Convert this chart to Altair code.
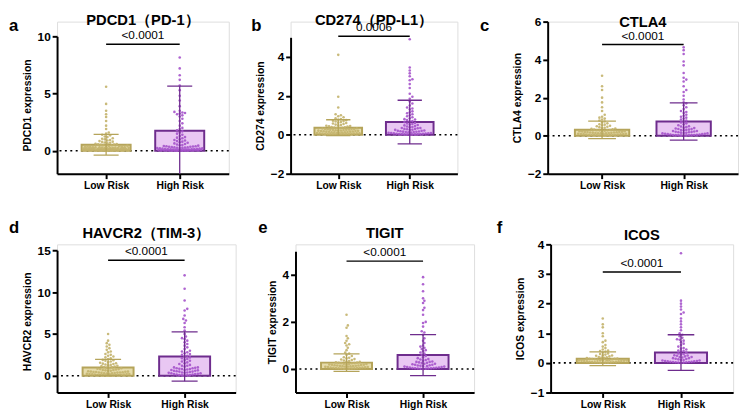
import math
import altair as alt
import pandas as pd

FONT = "Liberation Sans"

# ---------------- data ----------------
groups = ["Low Risk", "High Risk"]
letters = ["a", "b", "c", "d", "e", "f"]
titles = ["PDCD1（PD-1）", "CD274（PD-L1）", "CTLA4", "HAVCR2（TIM-3）", "TIGIT", "ICOS"]
y_titles = ["PDCD1 expression", "CD274 expression", "CTLA4 expression",
            "HAVCR2 expression", "TIGIT expression", "ICOS expression"]
p_values = ["<0.0001", "0.0006", "<0.0001", "<0.0001", "<0.0001", "<0.0001"]
y_domains = [[-2, 10], [-2, 5], [-2, 6], [-2, 15], [-1, 5], [-1, 4]]
y_ticks = [[0, 5, 10], [-2, 0, 2, 4], [-2, 0, 2, 4, 6], [0, 5, 10, 15], [0, 2, 4], [-1, 0, 1, 2, 3, 4]]
sig_y = [9.3, 5.05, 4.8, 13.8, 4.58, 3.07]
low_mean = [0.53, 0.36, 0.31, 1.0, 0.27, 0.14]
low_sd = [0.9, 0.41, 0.46, 0.95, 0.37, 0.23]
high_mean = [1.75, 0.65, 0.75, 2.3, 0.59, 0.35]
high_sd = [3.9, 1.12, 0.98, 2.95, 0.87, 0.6]

a_low = [5.6, 4.1, 3.5, 3.2, 2.95, 2.6, 2.2, 1.9, 1.6, 1.5, 1.4, 1.35, 1.25, 1.2, 1.1, 1.05, 1.0, 0.95,
         0.9, 0.85, 0.8, 0.78, 0.72, 0.7, 0.65, 0.62, 0.6, 0.58, 0.55, 0.52, 0.5, 0.48, 0.45, 0.44, 0.42,
         0.4, 0.38, 0.36, 0.35, 0.33, 0.32, 0.3, 0.3, 0.28, 0.27, 0.26, 0.25, 0.24, 0.22, 0.21, 0.2, 0.2,
         0.19, 0.18, 0.17, 0.16, 0.15, 0.15, 0.14, 0.13, 0.12, 0.12, 0.11, 0.1, 0.1, 0.09, 0.08, 0.08,
         0.07, 0.06, 0.06, 0.05, 0.05, 0.04, 0.04, 0.03, 0.03, 0.02, 0.02, 0.01,
         0.3, 0.28, 0.25, 0.22, 0.2, 0.18, 0.16, 0.14, 0.12, 0.1, 0.09, 0.07, 0.05, 0.04, 0.03,
         0.02, 0.01, 0.01, 0.0, 0.0]
a_high = [8.15, 7.2, 6.6, 6.2, 5.7, 5.3, 4.8, 4.4, 3.9, 3.5, 3.4, 3.35, 3.3, 3.25, 3.2, 3.1, 3.0, 2.8,
          2.6, 2.4, 2.2, 2.0, 1.9, 1.8, 1.7, 1.6, 1.5, 1.4, 1.3, 1.2, 1.15, 1.1, 1.0, 0.95, 0.9, 0.85,
          0.8, 0.75, 0.7, 0.65, 0.6, 0.55, 0.5, 0.48, 0.45, 0.42, 0.4, 0.38, 0.35, 0.32, 0.3, 0.28,
          0.26, 0.24, 0.22, 0.2, 0.19, 0.18, 0.16, 0.15, 0.14, 0.12, 0.11, 0.1, 0.09, 0.08, 0.07,
          0.06, 0.05, 0.04, 0.03, 0.02, 0.01,
          0.4, 0.35, 0.3, 0.27, 0.24, 0.21, 0.18, 0.15, 0.12, 0.1, 0.08, 0.06, 0.05, 0.04, 0.03,
          0.02, 0.01, 0.01, 0.0, 0.0]
b_low = [4.1, 1.95, 1.4, 1.05, 1.0, 0.95, 0.9, 0.85, 0.8, 0.78, 0.75, 0.72, 0.7, 0.68, 0.65, 0.62, 0.6,
         0.58, 0.55, 0.52, 0.5, 0.48, 0.46, 0.45, 0.43, 0.42, 0.4, 0.38, 0.37, 0.36, 0.35, 0.34, 0.33,
         0.32, 0.3, 0.29, 0.28, 0.27, 0.26, 0.25, 0.24, 0.23, 0.22, 0.21, 0.2, 0.19, 0.18, 0.17, 0.16,
         0.15, 0.14, 0.13, 0.12, 0.11, 0.1, 0.09, 0.08, 0.07, 0.06, 0.05, 0.04, 0.03, 0.02, 0.01,
         0.3, 0.26, 0.22, 0.19, 0.16, 0.13, 0.1, 0.08, 0.06, 0.05, 0.04, 0.03, 0.02, 0.01, 0.0]
b_high = [4.9, 3.45, 3.3, 3.15, 3.0, 2.85, 2.8, 2.6, 2.4, 2.1, 1.95, 1.85, 1.7, 1.6, 1.5, 1.4, 1.35, 1.3,
          1.2, 1.15, 1.1, 1.05, 1.0, 0.95, 0.9, 0.85, 0.8, 0.78, 0.75, 0.7, 0.68, 0.65, 0.6, 0.58, 0.55,
          0.52, 0.5, 0.48, 0.45, 0.42, 0.4, 0.38, 0.35, 0.33, 0.3, 0.28, 0.26, 0.24, 0.22, 0.2, 0.18,
          0.16, 0.15, 0.14, 0.12, 0.1, 0.09, 0.08, 0.06, 0.05, 0.04, 0.03, 0.02, 0.01,
          0.35, 0.3, 0.25, 0.2, 0.17, 0.14, 0.11, 0.09, 0.07, 0.05, 0.04, 0.03, 0.02, 0.01, 0.0]
c_low = [3.15, 2.6, 2.4, 2.0, 1.75, 1.5, 1.3, 1.1, 1.0, 0.95, 0.9, 0.85, 0.8, 0.75, 0.7, 0.65, 0.6, 0.58,
         0.55, 0.52, 0.5, 0.47, 0.45, 0.42, 0.4, 0.38, 0.36, 0.34, 0.32, 0.3, 0.29, 0.28, 0.26, 0.25,
         0.24, 0.22, 0.21, 0.2, 0.19, 0.18, 0.17, 0.16, 0.15, 0.14, 0.13, 0.12, 0.11, 0.1, 0.09, 0.08,
         0.07, 0.06, 0.05, 0.04, 0.03, 0.02, 0.01,
         0.28, 0.24, 0.2, 0.17, 0.14, 0.12, 0.1, 0.08, 0.06, 0.05, 0.04, 0.03, 0.02, 0.01, 0.0]
c_high = [4.65, 4.5, 4.3, 3.9, 3.7, 3.3, 3.05, 2.95, 2.85, 2.6, 2.4, 2.3, 2.1, 1.9, 1.75, 1.7, 1.6, 1.5,
          1.4, 1.3, 1.25, 1.2, 1.1, 1.05, 1.0, 0.95, 0.9, 0.85, 0.8, 0.75, 0.7, 0.65, 0.6, 0.55, 0.5,
          0.48, 0.45, 0.42, 0.4, 0.38, 0.35, 0.32, 0.3, 0.28, 0.25, 0.22, 0.2, 0.18, 0.16, 0.14, 0.12,
          0.1, 0.08, 0.06, 0.05, 0.04, 0.03, 0.02, 0.01,
          0.35, 0.3, 0.25, 0.21, 0.18, 0.15, 0.12, 0.1, 0.08, 0.06, 0.04, 0.03, 0.02, 0.01, 0.0]
d_low = [5.0, 4.2, 3.9, 3.7, 3.5, 3.3, 3.1, 2.9, 2.8, 2.6, 2.5, 2.4, 2.3, 2.2, 2.1, 2.0, 1.9, 1.85, 1.8,
         1.7, 1.6, 1.55, 1.5, 1.45, 1.4, 1.35, 1.3, 1.25, 1.2, 1.15, 1.1, 1.05, 1.0, 0.95, 0.9, 0.85,
         0.8, 0.75, 0.7, 0.65, 0.6, 0.55, 0.5, 0.48, 0.45, 0.42, 0.4, 0.38, 0.35, 0.32, 0.3, 0.28,
         0.25, 0.22, 0.2, 0.18, 0.15, 0.12, 0.1, 0.08, 0.06, 0.04, 0.02,
         0.9, 0.8, 0.7, 0.6, 0.5, 0.45, 0.4, 0.3, 0.25, 0.2, 0.15, 0.1, 0.05, 0.03, 0.01]
d_high = [12.0, 10.4, 9.0, 8.0, 7.8, 7.2, 6.8, 6.6, 6.3, 5.8, 5.4, 5.0, 4.7, 4.5, 4.4, 4.2, 4.0, 3.8,
          3.6, 3.4, 3.2, 3.0, 2.9, 2.8, 2.7, 2.6, 2.5, 2.4, 2.3, 2.2, 2.1, 2.0, 1.9, 1.8, 1.7, 1.6,
          1.5, 1.4, 1.3, 1.2, 1.1, 1.0, 0.95, 0.9, 0.85, 0.8, 0.75, 0.7, 0.65, 0.6, 0.55, 0.5, 0.45,
          0.4, 0.35, 0.3, 0.25, 0.2, 0.15, 0.1, 0.05,
          1.2, 1.0, 0.9, 0.8, 0.7, 0.6, 0.5, 0.4, 0.35, 0.3, 0.2, 0.15, 0.1, 0.05, 0.02]
e_low = [2.3, 1.85, 1.75, 1.4, 1.3, 1.2, 1.1, 1.05, 1.0, 0.9, 0.8, 0.7, 0.65, 0.6, 0.55, 0.5, 0.48,
         0.45, 0.42, 0.4, 0.38, 0.36, 0.34, 0.32, 0.3, 0.28, 0.27, 0.26, 0.25, 0.24, 0.22, 0.21, 0.2,
         0.19, 0.18, 0.17, 0.16, 0.15, 0.14, 0.13, 0.12, 0.11, 0.1, 0.09, 0.08, 0.07, 0.06, 0.05,
         0.04, 0.03, 0.02, 0.01,
         0.25, 0.21, 0.18, 0.15, 0.12, 0.1, 0.08, 0.06, 0.05, 0.04, 0.03, 0.02, 0.01, 0.0]
e_high = [3.9, 3.6, 3.3, 3.0, 2.9, 2.8, 2.6, 2.5, 2.3, 2.0, 1.95, 1.8, 1.6, 1.55, 1.45, 1.3, 1.2, 1.1,
          1.0, 0.95, 0.9, 0.85, 0.8, 0.75, 0.7, 0.65, 0.6, 0.55, 0.5, 0.46, 0.42, 0.4, 0.38, 0.35,
          0.32, 0.3, 0.28, 0.25, 0.22, 0.2, 0.18, 0.16, 0.14, 0.12, 0.1, 0.08, 0.06, 0.05, 0.04,
          0.03, 0.02, 0.01,
          0.3, 0.26, 0.22, 0.18, 0.15, 0.12, 0.1, 0.08, 0.06, 0.04, 0.03, 0.02, 0.01, 0.0]
f_low = [1.5, 1.3, 1.2, 1.0, 0.9, 0.75, 0.7, 0.6, 0.55, 0.5, 0.45, 0.42, 0.4, 0.38, 0.35, 0.32, 0.3,
         0.28, 0.26, 0.25, 0.24, 0.22, 0.2, 0.19, 0.18, 0.17, 0.16, 0.15, 0.14, 0.13, 0.12, 0.11, 0.1,
         0.09, 0.08, 0.07, 0.06, 0.05, 0.04, 0.03, 0.02, 0.01,
         0.14, 0.12, 0.1, 0.09, 0.08, 0.07, 0.06, 0.05, 0.04, 0.03, 0.02, 0.02, 0.01, 0.01, 0.0]
f_high = [3.7, 2.1, 2.0, 1.9, 1.8, 1.7, 1.65, 1.5, 1.4, 1.3, 1.2, 1.1, 1.0, 0.95, 0.9, 0.85, 0.8, 0.78,
          0.75, 0.7, 0.65, 0.6, 0.55, 0.5, 0.48, 0.45, 0.42, 0.4, 0.38, 0.35, 0.32, 0.3, 0.28, 0.26,
          0.24, 0.22, 0.2, 0.18, 0.16, 0.14, 0.12, 0.1, 0.08, 0.06, 0.05, 0.04, 0.03, 0.02, 0.01,
          0.25, 0.2, 0.16, 0.13, 0.1, 0.08, 0.06, 0.05, 0.04, 0.03, 0.02, 0.01, 0.0]

low_points = [a_low, b_low, c_low, d_low, e_low, f_low]
high_points = [a_high, b_high, c_high, d_high, e_high, f_high]

# ---------------- layout / style ----------------
PW = [175, 170, 194, 182, 182, 186]
PH = [155, 155, 155, 151, 151, 151]          # common plot height per row
RANGE_TOP = [15, 16, 0, 6, 7, 0]             # where each y axis starts inside its plot
letter_dx = [-49, -40, -69, -49, -38, -55]
letter_dy = [10, 10, 10, -12, -12, -12]
title_dy = [-1.5, -2, 0.5, -11, -11, -9.5]
X_MIN, X_MAX = 1 / 3, 8 / 3
BOX_HALF = 0.333
CAP_HALF = 0.17

BOX_FILL = ["#e6dcab", "#e9c7f3"]
BOX_STROKE = ["#b5a45a", "#6e2c8d"]
PT_COLOR = ["#c3b26c", "#a553cb"]


def swarm_offsets(vals, ppu_y, d=2.7, maxoff=23.0):
    order = sorted(range(len(vals)), key=lambda k: vals[k])
    step = d / 2
    nmax = int(maxoff / step)
    cands = [0.0]
    for k in range(1, nmax + 1):
        cands += [k * step, -k * step]
    placed = []
    offs = [0.0] * len(vals)
    for idx in order:
        y = vals[idx] * ppu_y
        near = [(px, py) for (px, py) in placed if abs(py - y) < d]
        best, bestc, bestscore = None, 0.0, -1
        for c in cands:
            md = min((math.hypot(c - px, y - py) for px, py in near), default=1e9)
            if md >= d:
                best = c
                break
            if md > bestscore:
                bestscore, bestc = md, c
        if best is None:
            best = bestc
        placed.append((best, y))
        offs[idx] = best
    return offs


def make_panel(i):
    w, h, top = PW[i], PH[i], RANGE_TOP[i]
    y0, y1 = y_domains[i]
    ppu_x = w / (X_MAX - X_MIN)
    ppu_y = (h - top) / (y1 - y0)
    xs = alt.Scale(domain=[X_MIN, X_MAX], nice=False, zero=False)
    ys = alt.Scale(domain=[y0, y1], range=[h, top], nice=False, zero=False)
    label_expr = "datum.value == 1 ? '%s' : '%s'" % (groups[0], groups[1])
    xaxis = alt.Axis(values=[1, 2], labelExpr=label_expr, title=None, grid=False,
                     domainColor="black", domainWidth=2, tickColor="black", tickWidth=2,
                     tickSize=5, labelFont=FONT, labelFontSize=10.5, labelFontWeight="bold",
                     labelColor="black", labelPadding=2, labelFlush=False)
    yaxis = alt.Axis(values=y_ticks[i], title=y_titles[i], grid=False,
                     domainColor="black", domainWidth=2, tickColor="black", tickWidth=2,
                     tickSize=5, labelFont=FONT, labelFontSize=12, labelFontWeight="bold",
                     labelColor="black", labelPadding=2, titleFont=FONT, titleFontSize=10.5,
                     titleFontWeight="bold", titleColor="black", titlePadding=5,
                     labelFlush=False)

    def X(f):
        return alt.X(f, type="quantitative", scale=xs, axis=xaxis)

    def Y(f):
        return alt.Y(f, type="quantitative", scale=ys, axis=yaxis)

    means = [low_mean[i], high_mean[i]]
    sds = [low_sd[i], high_sd[i]]
    stats = pd.DataFrame({
        "group": groups,
        "pos": [1, 2],
        "mean": means,
        "zero": [0, 0],
        "lo": [m - s for m, s in zip(means, sds)],
        "hi": [m + s for m, s in zip(means, sds)],
        "bx1": [1 - BOX_HALF, 2 - BOX_HALF],
        "bx2": [1 + BOX_HALF, 2 + BOX_HALF],
        "cx1": [1 - CAP_HALF, 2 - CAP_HALF],
        "cx2": [1 + CAP_HALF, 2 + CAP_HALF],
    })
    rows = []
    for g, pos, vals in [(groups[0], 1, low_points[i]), (groups[1], 2, high_points[i])]:
        offs = swarm_offsets(vals, ppu_y, maxoff=0.31 * ppu_x)
        for v, o in zip(vals, offs):
            rows.append({"group": g, "value": v, "xp": pos + o / ppu_x})
    pts = pd.DataFrame(rows)

    fill_s = alt.Scale(domain=groups, range=BOX_FILL)
    stroke_s = alt.Scale(domain=groups, range=BOX_STROKE)
    color_s = alt.Scale(domain=groups, range=PT_COLOR)

    base = alt.Chart(stats)
    zero_line = alt.Chart(pd.DataFrame({"zero": [0]})).mark_rule(
        color="black", strokeDash=[2, 3.5], strokeWidth=1.6).encode(y=Y("zero"))
    boxes = base.mark_rect(strokeWidth=2).encode(
        x=X("bx1"), x2="bx2", y=Y("zero"), y2="mean",
        fill=alt.Fill("group:N", scale=fill_s, legend=None),
        stroke=alt.Stroke("group:N", scale=stroke_s, legend=None))
    points = alt.Chart(pts).mark_circle(size=7, opacity=0.9).encode(
        x=X("xp"), y=Y("value"),
        color=alt.Color("group:N", scale=color_s, legend=None))
    whisk = base.mark_rule(strokeWidth=1.3, clip=True).encode(
        x=X("pos"), y=Y("lo"), y2="hi",
        stroke=alt.Stroke("group:N", scale=stroke_s, legend=None))
    cap_hi = base.mark_rule(strokeWidth=1.3, clip=True).encode(
        x=X("cx1"), x2="cx2", y=Y("hi"),
        stroke=alt.Stroke("group:N", scale=stroke_s, legend=None))
    cap_lo = base.mark_rule(strokeWidth=1.3, clip=True).encode(
        x=X("cx1"), x2="cx2", y=Y("lo"),
        stroke=alt.Stroke("group:N", scale=stroke_s, legend=None))

    sig = pd.DataFrame({"x1": [1], "x2": [2], "xm": [1.5], "y": [sig_y[i]], "p": [p_values[i]]})
    sig_rule = alt.Chart(sig).mark_rule(color="black", strokeWidth=1.5).encode(
        x=X("x1"), x2="x2", y=Y("y"))
    sig_text = alt.Chart(sig).mark_text(font=FONT, fontSize=12, color="black",
                                        baseline="bottom", dy=-2).encode(
        x=X("xm"), y=Y("y"), text="p:N")

    ttl = alt.Chart(pd.DataFrame({"t": [titles[i]]})).mark_text(
        font=FONT, fontSize=15, fontWeight="bold", color="black", baseline="middle",
        align="center").encode(x=alt.value(w / 2), y=alt.value(title_dy[i]), text="t:N")
    let = alt.Chart(pd.DataFrame({"t": [letters[i]]})).mark_text(
        font=FONT, fontSize=17, fontWeight="bold", color="black", baseline="alphabetic",
        align="left").encode(x=alt.value(letter_dx[i]), y=alt.value(letter_dy[i]), text="t:N")

    return alt.layer(zero_line, boxes, points, whisk, cap_hi, cap_lo, sig_rule, sig_text,
                     ttl, let).properties(width=w, height=h)


row1 = alt.hconcat(make_panel(0), make_panel(1), make_panel(2), spacing=20)
row2 = alt.hconcat(make_panel(3), make_panel(4), make_panel(5), spacing=20)
chart = alt.vconcat(row1, row2, spacing=27).properties(padding=0).configure_view(
    stroke=None).configure(font=FONT)

chart.save("out.html", embed_options={"renderer": "svg", "actions": False})
